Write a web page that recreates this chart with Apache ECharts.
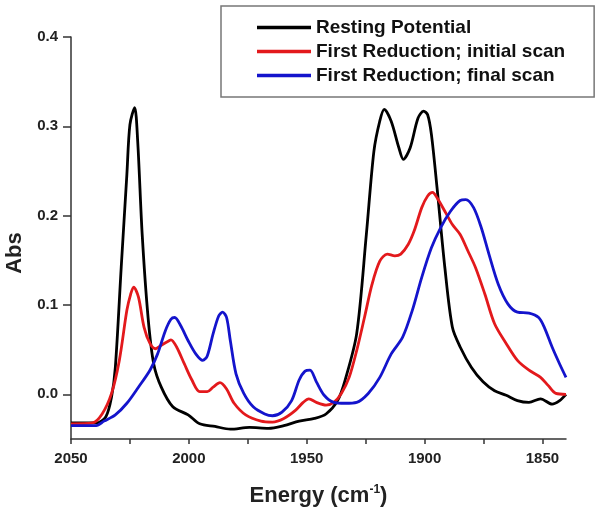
<!DOCTYPE html>
<html>
<head>
<meta charset="utf-8">
<script src="https://cdn.jsdelivr.net/npm/echarts@6/dist/echarts.min.js"></script>
<style>html,body{margin:0;padding:0;background:#fff}#c{width:600px;height:519px}</style>
</head>
<body>
<div id="c"></div>
<script>
const seriesNames = ['Resting Potential', 'First Reduction; initial scan', 'First Reduction; final scan'];
const seriesColors = ['#000000', '#e3191c', '#1414cc'];
const energyTickLabels = [2050, 2000, 1950, 1900, 1850];
const energyTickMarks = [2050, 2025, 2000, 1975, 1950, 1925, 1900, 1875, 1850];
const absTickLabels = [0, 0.1, 0.2, 0.3, 0.4];

// [energy (cm-1), Abs]
const restingPotential = [
  [2050,-0.032],[2039.3,-0.032],[2035.2,-0.025],[2032.8,-0.003],[2031.2,0.030],[2028.7,0.142],
  [2026.3,0.246],[2025.0,0.302],[2023.0,0.321],[2021.7,0.283],[2019.8,0.179],[2017.3,0.086],
  [2014.9,0.034],[2011.7,0.008],[2006.8,-0.014],[2000.3,-0.023],[1995.4,-0.033],[1988.9,-0.036],
  [1982.4,-0.039],[1974.3,-0.037],[1966.2,-0.038],[1959.7,-0.035],[1953.2,-0.030],[1946.7,-0.027],
  [1941.8,-0.022],[1936.9,-0.007],[1933.7,0.016],[1928.8,0.068],[1924.7,0.179],[1921.5,0.272],
  [1919.0,0.306],[1917.1,0.319],[1914.2,0.306],[1910.9,0.276],[1909.0,0.263],[1906.1,0.276],
  [1902.8,0.309],[1900.4,0.317],[1898.7,0.313],[1897.1,0.291],[1894.7,0.231],[1891.4,0.142],
  [1888.2,0.075],[1884.9,0.053],[1880.1,0.030],[1875.2,0.014],[1870.3,0.004],[1865.4,-0.001],
  [1860.6,-0.007],[1855.7,-0.009],[1850.8,-0.005],[1845.9,-0.011],[1842.7,-0.007],[1840,0.0]
];
const initialScan = [
  [2050,-0.033],[2040.9,-0.032],[2036.8,-0.022],[2032.8,0.001],[2029.5,0.038],[2026.3,0.094],
  [2024.7,0.112],[2023.4,0.120],[2021.4,0.109],[2019.0,0.075],[2016.5,0.057],[2014.1,0.051],
  [2011.7,0.055],[2008.4,0.060],[2007.6,0.061],[2005.2,0.053],[2001.9,0.034],[1998.7,0.016],
  [1995.4,0.003],[1992.2,0.003],[1989.7,0.008],[1986.8,0.013],[1984.0,0.006],[1980.8,-0.010],
  [1975.9,-0.023],[1969.4,-0.030],[1964.5,-0.031],[1959.7,-0.027],[1954.8,-0.018],[1951.5,-0.009],
  [1949.1,-0.005],[1945.9,-0.009],[1941.8,-0.012],[1938.5,-0.009],[1935.3,0.001],[1932.0,0.019],
  [1928.8,0.049],[1925.5,0.086],[1922.3,0.123],[1919.0,0.149],[1915.8,0.157],[1912.6,0.155],
  [1910.1,0.157],[1906.9,0.168],[1904.4,0.183],[1901.2,0.209],[1898.7,0.222],[1896.6,0.226],
  [1894.7,0.220],[1891.4,0.205],[1888.2,0.190],[1884.9,0.179],[1881.7,0.161],[1878.4,0.142],
  [1874.4,0.112],[1870.3,0.079],[1865.4,0.057],[1860.6,0.038],[1855.7,0.027],[1850.8,0.019],
  [1847.6,0.010],[1844.3,0.001],[1840,0.0]
];
const finalScan = [
  [2050,-0.035],[2039.3,-0.035],[2036.0,-0.030],[2031.2,-0.023],[2026.3,-0.010],[2021.4,0.008],
  [2016.5,0.027],[2013.3,0.045],[2010.0,0.071],[2007.6,0.084],[2006.0,0.086],[2003.5,0.077],
  [2000.3,0.060],[1997.0,0.045],[1994.1,0.038],[1992.2,0.043],[1989.7,0.068],[1987.3,0.088],
  [1985.7,0.092],[1984.0,0.086],[1982.4,0.060],[1980.0,0.023],[1976.7,0.001],[1972.7,-0.014],
  [1967.8,-0.022],[1964.5,-0.024],[1960.5,-0.020],[1956.4,-0.007],[1953.2,0.016],[1950.7,0.026],
  [1948.6,0.027],[1945.9,0.014],[1942.6,-0.001],[1938.5,-0.009],[1933.7,-0.010],[1928.8,-0.009],
  [1923.9,0.001],[1919.0,0.019],[1914.2,0.045],[1909.3,0.064],[1905.2,0.094],[1901.2,0.131],
  [1897.1,0.164],[1893.1,0.187],[1889.0,0.205],[1884.9,0.217],[1882.5,0.218],[1879.2,0.209],
  [1876.0,0.187],[1872.7,0.157],[1868.7,0.123],[1864.6,0.101],[1860.6,0.092],[1855.7,0.091],
  [1851.6,0.086],[1849.2,0.075],[1845.9,0.053],[1842.7,0.034],[1840,0.019]
];
const seriesData = [restingPotential, initialScan, finalScan];

const FONT = '"Liberation Sans", Arial, sans-serif';
const chart = echarts.init(document.getElementById('c'), null, {renderer: 'canvas'});
chart.setOption({
  backgroundColor: '#ffffff',
  animation: false,
  textStyle: {fontFamily: FONT},
  grid: {left: 71, top: 37, width: 495, height: 402, containLabel: false},
  legend: {
    orient: 'vertical', left: 221, top: 6,
    padding: [12, 29, 12, 36],
    borderColor: '#777', borderWidth: 1.5,
    itemGap: 5, itemWidth: 54, itemHeight: 3.5, icon: 'rect',
    textStyle: {fontFamily: FONT, fontSize: 19, fontWeight: 'bold', color: '#111'},
    data: seriesNames
  },
  xAxis: {
    type: 'value', inverse: true, min: 1840, max: 2050,
    axisLine: {onZero: false, lineStyle: {color: '#333', width: 1.5}},
    axisTick: {show: true, customValues: energyTickMarks, length: 5, lineStyle: {color: '#333', width: 1.5}},
    axisLabel: {customValues: energyTickLabels, formatter: v => String(v), fontFamily: FONT, fontSize: 15, fontWeight: 'bold', color: '#222', margin: 12},
    splitLine: {show: false},
    name: '{a|Energy (cm}{s|-1}{a|)}',
    nameLocation: 'middle', nameGap: 45,
    nameTextStyle: {
      rich: {
        a: {fontFamily: FONT, fontSize: 22, fontWeight: 'bold', color: '#222', lineHeight: 24},
        s: {fontFamily: FONT, fontSize: 12, fontWeight: 'bold', color: '#222', verticalAlign: 'top', lineHeight: 24}
      }
    }
  },
  yAxis: {
    type: 'value', min: -0.05, max: 0.4,
    axisLine: {show: true, onZero: false, lineStyle: {color: '#333', width: 1.5}},
    axisTick: {show: true, customValues: absTickLabels, length: 8, lineStyle: {color: '#333', width: 1.5}},
    axisLabel: {customValues: absTickLabels, formatter: v => v.toFixed(1), fontFamily: FONT, fontSize: 15, fontWeight: 'bold', color: '#222', margin: 13},
    splitLine: {show: false}
  },
  graphic: [{
    type: 'text', x: 15, y: 253, rotation: Math.PI / 2,
    style: {text: 'Abs', font: 'bold 22px ' + FONT, fill: '#222', textAlign: 'center', textVerticalAlign: 'middle'}
  }],
  series: seriesNames.map((n, i) => ({
    name: n, type: 'line', data: seriesData[i], smooth: 0.3, symbol: 'none',
    lineStyle: {color: seriesColors[i], width: 2.8}, itemStyle: {color: seriesColors[i]}
  }))
});
</script>
</body>
</html>
